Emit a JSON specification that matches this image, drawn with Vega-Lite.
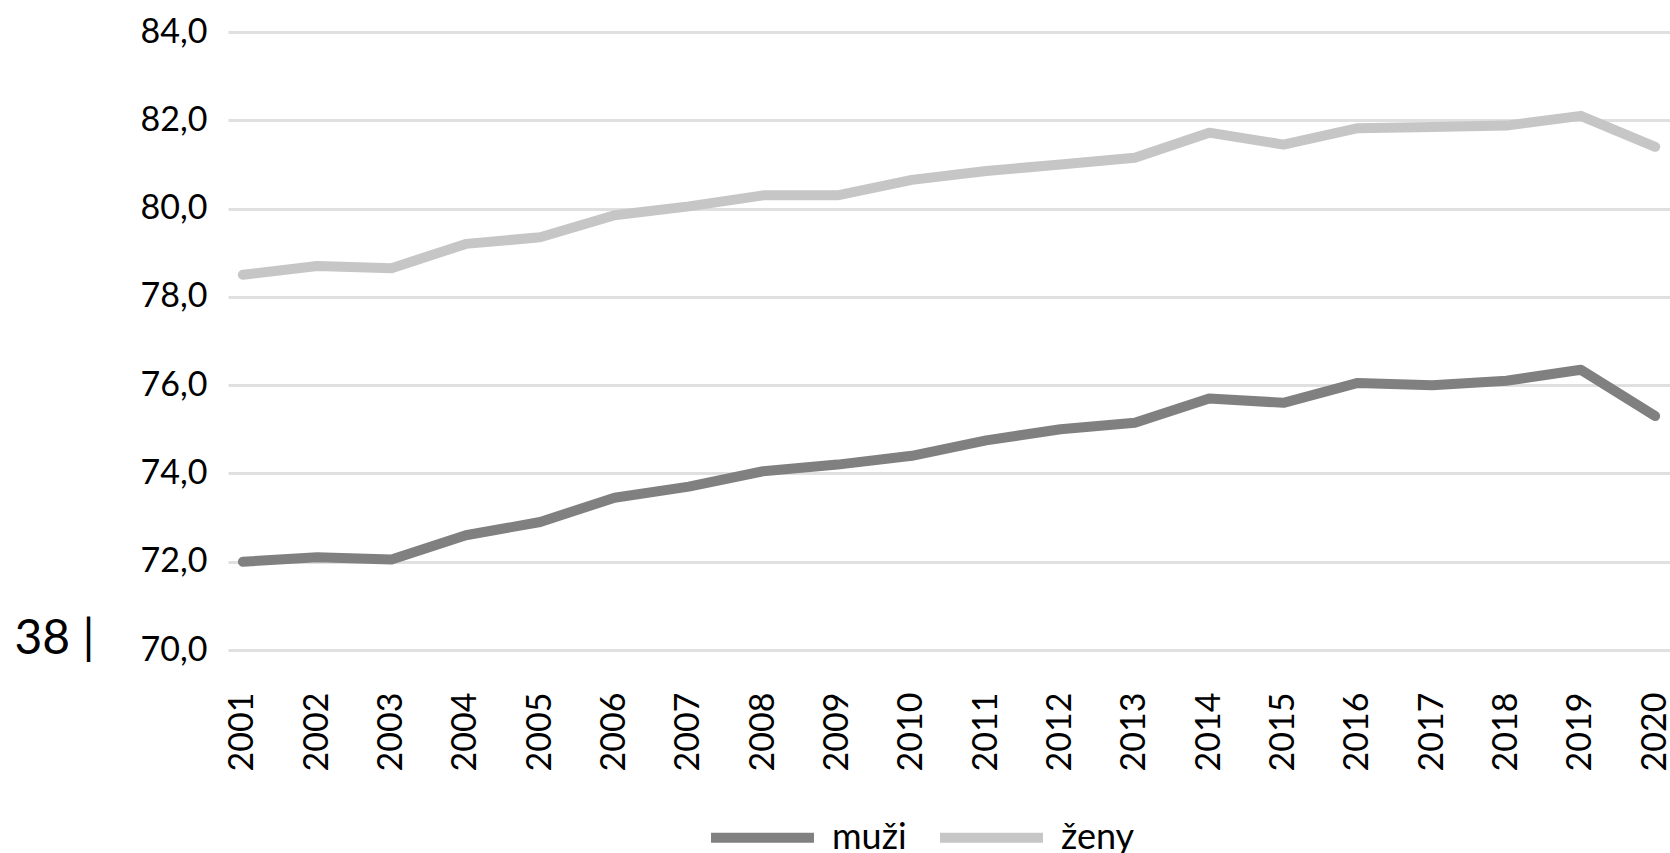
{
  "$schema": "https://vega.github.io/schema/vega-lite/v6.json",
  "width": 1442,
  "height": 618,
  "autosize": {"type": "none"},
  "padding": {"left": 228, "top": 32, "right": 0, "bottom": 203},
  "background": "white",
  "config": {
    "view": {"stroke": null},
    "font": "Lato",
    "axis": {"labelFont": "Lato", "labelColor": "#000000", "titleFont": "Lato"},
    "legend": {"labelFont": "Lato"}
  },
  "data": {
    "values": [
      {"rok": "2001", "pohlavi": "muži", "hodnota": 72.0},
      {"rok": "2002", "pohlavi": "muži", "hodnota": 72.1},
      {"rok": "2003", "pohlavi": "muži", "hodnota": 72.05},
      {"rok": "2004", "pohlavi": "muži", "hodnota": 72.6},
      {"rok": "2005", "pohlavi": "muži", "hodnota": 72.9},
      {"rok": "2006", "pohlavi": "muži", "hodnota": 73.45},
      {"rok": "2007", "pohlavi": "muži", "hodnota": 73.7},
      {"rok": "2008", "pohlavi": "muži", "hodnota": 74.05},
      {"rok": "2009", "pohlavi": "muži", "hodnota": 74.2},
      {"rok": "2010", "pohlavi": "muži", "hodnota": 74.4},
      {"rok": "2011", "pohlavi": "muži", "hodnota": 74.75},
      {"rok": "2012", "pohlavi": "muži", "hodnota": 75.0},
      {"rok": "2013", "pohlavi": "muži", "hodnota": 75.15},
      {"rok": "2014", "pohlavi": "muži", "hodnota": 75.7},
      {"rok": "2015", "pohlavi": "muži", "hodnota": 75.6},
      {"rok": "2016", "pohlavi": "muži", "hodnota": 76.05},
      {"rok": "2017", "pohlavi": "muži", "hodnota": 76.0},
      {"rok": "2018", "pohlavi": "muži", "hodnota": 76.1},
      {"rok": "2019", "pohlavi": "muži", "hodnota": 76.35},
      {"rok": "2020", "pohlavi": "muži", "hodnota": 75.3},
      {"rok": "2001", "pohlavi": "ženy", "hodnota": 78.5},
      {"rok": "2002", "pohlavi": "ženy", "hodnota": 78.7},
      {"rok": "2003", "pohlavi": "ženy", "hodnota": 78.65},
      {"rok": "2004", "pohlavi": "ženy", "hodnota": 79.2},
      {"rok": "2005", "pohlavi": "ženy", "hodnota": 79.35},
      {"rok": "2006", "pohlavi": "ženy", "hodnota": 79.85},
      {"rok": "2007", "pohlavi": "ženy", "hodnota": 80.05},
      {"rok": "2008", "pohlavi": "ženy", "hodnota": 80.3},
      {"rok": "2009", "pohlavi": "ženy", "hodnota": 80.3},
      {"rok": "2010", "pohlavi": "ženy", "hodnota": 80.65},
      {"rok": "2011", "pohlavi": "ženy", "hodnota": 80.85},
      {"rok": "2012", "pohlavi": "ženy", "hodnota": 81.0},
      {"rok": "2013", "pohlavi": "ženy", "hodnota": 81.15},
      {"rok": "2014", "pohlavi": "ženy", "hodnota": 81.72},
      {"rok": "2015", "pohlavi": "ženy", "hodnota": 81.45},
      {"rok": "2016", "pohlavi": "ženy", "hodnota": 81.82},
      {"rok": "2017", "pohlavi": "ženy", "hodnota": 81.85},
      {"rok": "2018", "pohlavi": "ženy", "hodnota": 81.88},
      {"rok": "2019", "pohlavi": "ženy", "hodnota": 82.1},
      {"rok": "2020", "pohlavi": "ženy", "hodnota": 81.4}
    ]
  },
  "mark": {"type": "line", "strokeWidth": 10, "strokeCap": "round", "strokeJoin": "round"},
  "encoding": {
    "x": {
      "field": "rok",
      "type": "ordinal",
      "scale": {"type": "point", "padding": 0.2},
      "axis": {
        "title": null,
        "labelAngle": -90,
        "labelFontSize": 34,
        "labelPadding": 42,
        "ticks": false,
        "tickSize": 0,
        "domain": false,
        "grid": false
      }
    },
    "y": {
      "field": "hodnota",
      "type": "quantitative",
      "scale": {"domain": [70, 84], "zero": false, "nice": false},
      "axis": {
        "values": [70, 72, 74, 76, 78, 80, 82, 84],
        "labelExpr": "replace(format(datum.value, '.1f'), '.', ',')",
        "labelFontSize": 34,
        "labelPadding": 21,
        "ticks": false,
        "tickSize": 0,
        "domain": false,
        "grid": true,
        "gridColor": "#e0e0e0",
        "gridWidth": 3,
        "title": "38  |",
        "titleAngle": 0,
        "titleAlign": "left",
        "titleBaseline": "alphabetic",
        "titleX": -214,
        "titleY": 621,
        "titleFontSize": 48,
        "titleFontWeight": "normal",
        "titleColor": "#000000"
      }
    },
    "color": {
      "field": "pohlavi",
      "type": "nominal",
      "scale": {"domain": ["muži", "ženy"], "range": ["#808080", "#c6c6c6"]},
      "legend": {
        "title": null,
        "orient": "none",
        "direction": "horizontal",
        "legendX": 478,
        "legendY": 749,
        "symbolType": "stroke",
        "symbolSize": 10600,
        "symbolStrokeWidth": 10,
        "labelFontSize": 36,
        "labelColor": "#000000",
        "labelOffset": 13,
        "columnPadding": 13
      }
    }
  }
}
